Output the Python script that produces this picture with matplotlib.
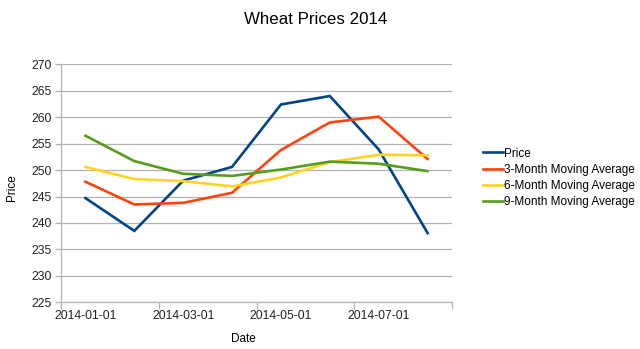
import matplotlib
matplotlib.use("Agg")
import matplotlib.pyplot as plt
from matplotlib.ticker import FixedLocator, NullFormatter

plt.rcParams['font.family'] = ['Liberation Sans', 'DejaVu Sans']

dates = ["2014-01-01", "2014-02-01", "2014-03-01", "2014-04-01",
         "2014-05-01", "2014-06-01", "2014-07-01", "2014-08-01"]
price = [244.7, 238.5, 248.0, 250.6, 262.4, 264.0, 253.9, 238.1]
ma3 = [247.8, 243.5, 243.8, 245.7, 253.8, 259.0, 260.1, 252.1]
ma6 = [250.6, 248.3, 247.9, 246.9, 248.6, 251.5, 252.9, 252.8]
ma9 = [256.5, 251.7, 249.3, 248.9, 250.1, 251.6, 251.2, 249.8]
series_names = ["Price", "3-Month Moving Average",
                "6-Month Moving Average", "9-Month Moving Average"]
colors = ["#004586", "#ff420e", "#ffd320", "#579d1c"]

W, H = 640, 349
fig = plt.figure(figsize=(W / 100, H / 100), dpi=100)
ax = fig.add_axes([61 / W, (H - 302.3) / H, (452 - 61) / W, (302.3 - 64.3) / H])

x = list(range(len(dates)))
lines = []
for vals, c, name in zip([price, ma3, ma6, ma9], colors, series_names):
    ln, = ax.plot(x, vals, color=c, lw=1.9, label=name, solid_joinstyle='miter')
    lines.append(ln)

ax.set_xlim(-0.5, len(dates) - 0.5)
ax.set_ylim(225, 270)
ax.set_yticks(range(225, 271, 5))
ax.yaxis.grid(True, color="#b3b3b3", lw=0.9)
ax.set_axisbelow(True)

# ticks on category boundaries, labels on category centres
ax.xaxis.set_major_locator(FixedLocator([-0.5, 1.5, 3.5, 5.5, 7.5]))
ax.xaxis.set_major_formatter(NullFormatter())
ax.set_xticks([0, 2, 4, 6], minor=True)
ax.set_xticklabels([dates[i] for i in [0, 2, 4, 6]], minor=True)
ax.tick_params(axis='x', which='minor', length=0, pad=5.5)
ax.tick_params(axis='x', which='major', length=5, color="#b3b3b3", width=0.9)
ax.tick_params(axis='y', length=4, color="#b3b3b3", width=0.9, pad=2.5)
ax.tick_params(which='both', labelsize=8.7, labelcolor="#222222")

for s in ['top', 'right']:
    ax.spines[s].set_visible(False)
for s in ['left', 'bottom']:
    ax.spines[s].set_color("#b3b3b3")
    ax.spines[s].set_linewidth(0.9)

fig.text(316 / W, 1 - 20 / H, "Wheat Prices 2014", ha='center', va='center', fontsize=12.2)
fig.text(12 / W, 1 - 188 / H, "Price", rotation=90, ha='center', va='center', fontsize=8.5)
fig.text(243 / W, 1 - 339 / H, "Date", ha='center', va='center', fontsize=8.5)

fig.legend(handles=lines, loc='center left', bbox_to_anchor=(478 / W, 1 - 178 / H),
           frameon=False, fontsize=8.5, handlelength=1.7, handletextpad=0.1,
           labelspacing=0.36, borderaxespad=0)

fig.savefig("out.png", dpi=100)
